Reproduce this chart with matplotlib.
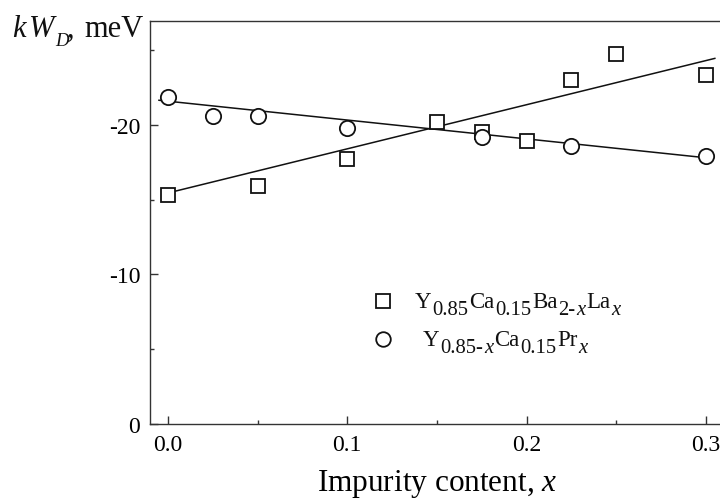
import matplotlib
matplotlib.use("Agg")
import matplotlib.pyplot as plt
from matplotlib.ticker import FixedLocator
from matplotlib.transforms import IdentityTransform
from matplotlib.lines import Line2D

plt.rcParams['font.family'] = ['Liberation Serif', 'DejaVu Serif']
plt.rcParams['mathtext.fontset'] = 'custom'
plt.rcParams['mathtext.rm'] = 'Liberation Serif'
plt.rcParams['mathtext.it'] = 'Liberation Serif:italic'
plt.rcParams['axes.unicode_minus'] = False

# Y0.85Ca0.15Ba2-xLax series
x_la = [0.0, 0.05, 0.10, 0.15, 0.175, 0.20, 0.225, 0.25, 0.30]
w_la = [-15.3, -15.9, -17.7, -20.2, -19.5, -18.9, -23.0, -24.75, -23.35]
# linear fit through the La series
fit_x_la = [0.0, 0.305]
fit_w_la = [-15.45, -24.45]

# Y0.85-xCa0.15Prx series
x_pr = [0.0, 0.025, 0.05, 0.10, 0.175, 0.225, 0.30]
w_pr = [-21.85, -20.6, -20.6, -19.8, -19.2, -18.6, -17.95]
# linear fit through the Pr series
fit_x_pr = [-0.005, 0.302]
fit_w_pr = [-21.65, -17.78]

x_major = [0.0, 0.1, 0.2, 0.3]
x_minor = [0.05, 0.15, 0.25]
y_major = [0, -10, -20]
y_minor = [-5, -15, -25]

# chemical formulas as (text, italic, subscript) runs
label_la = [('Y', False, False), ('0.85', False, True), ('Ca', False, False),
            ('0.15', False, True), ('Ba', False, False), ('2-', False, True),
            ('x', True, True), ('La', False, False), ('x', True, True)]
label_pr = [('Y', False, False), ('0.85-', False, True), ('x', True, True),
            ('Ca', False, False), ('0.15', False, True), ('Pr', False, False),
            ('x', True, True)]

W, H = 720, 502
fig = plt.figure(figsize=(W / 100, H / 100), dpi=100)
ax = fig.add_axes([150 / W, 77 / H, 573.8 / W, 403 / H])

ink = '#111111'
spine_c = '#333333'

ax.plot(x_la, w_la, linestyle='none', marker='s', markersize=10,
        markerfacecolor='white', markeredgecolor=ink, markeredgewidth=1.3,
        zorder=3)
ax.plot(x_pr, w_pr, linestyle='none', marker='o', markersize=11,
        markerfacecolor='white', markeredgecolor=ink, markeredgewidth=1.3,
        zorder=3)
ax.plot(fit_x_la, fit_w_la, color=ink, linewidth=1.1, zorder=2)
ax.plot(fit_x_pr, fit_w_pr, color=ink, linewidth=1.1, zorder=2)

ax.set_xlim(-0.01, 0.31)
ax.set_ylim(0, -26.95)

ax.xaxis.set_major_locator(FixedLocator(x_major))
ax.xaxis.set_minor_locator(FixedLocator(x_minor))
ax.yaxis.set_major_locator(FixedLocator(y_major))
ax.yaxis.set_minor_locator(FixedLocator(y_minor))
ax.set_xticklabels(['%.1f' % v for v in x_major])
ax.set_yticklabels(['%d' % v for v in y_major])

ax.tick_params(which='major', direction='in', length=6, width=1.0,
               color=spine_c, labelsize=17, pad=7)
ax.tick_params(which='minor', direction='in', length=3, width=1.0,
               color=spine_c)
ax.tick_params(axis='y', which='major', pad=7)

for s in ax.spines.values():
    s.set_color(spine_c)
    s.set_linewidth(1.0)
ax.spines['right'].set_visible(False)

ax.set_xlabel(r'Impurity content, $x$', fontsize=22.5, labelpad=9)

renderer = fig.canvas.get_renderer()


def rich_text(x, y_top, runs, size, sub_scale, sub_drop, gap=1.0):
    """Write runs left to right; y_top is the baseline measured from the top."""
    xp = x
    yb = H - y_top
    for text, italic, sub in runs:
        fs = size * (sub_scale if sub else 1.0)
        yy = yb - (sub_drop if sub else 0.0)
        t = fig.text(xp, yy, text, fontsize=fs, transform=IdentityTransform(),
                     ha='left', va='baseline',
                     style='italic' if italic else 'normal', color=ink)
        bb = t.get_window_extent(renderer)
        xp = bb.x1 + gap
    return xp


def put(x, y_top, text, size, italic=False):
    fig.text(x, H - y_top, text, fontsize=size, transform=IdentityTransform(),
             ha='left', va='baseline', style='italic' if italic else 'normal',
             color=ink)


# axis title in the upper-left corner: kW_D, meV
put(12, 37, 'k', 22, italic=True)
put(29, 37, 'W', 22, italic=True)
put(55, 46.5, 'D', 13.5, italic=True)
put(67, 37, ',', 22)
put(84, 37, 'meV', 22)

# legend
fig.add_artist(Line2D([382.7 / W], [1 - 301.7 / H], transform=fig.transFigure,
                      marker='s', markersize=10.5, markerfacecolor='white',
                      markeredgecolor=ink, markeredgewidth=1.3, linestyle='none'))
fig.add_artist(Line2D([382.7 / W], [1 - 340 / H], transform=fig.transFigure,
                      marker='o', markersize=10.5, markerfacecolor='white',
                      markeredgecolor=ink, markeredgewidth=1.3, linestyle='none'))
rich_text(415, 308.3, label_la, 16.5, 0.9, 7, gap=0.8)
rich_text(423, 346.5, label_pr, 16.5, 0.9, 7, gap=0.8)

fig.savefig('out.png', dpi=100)
